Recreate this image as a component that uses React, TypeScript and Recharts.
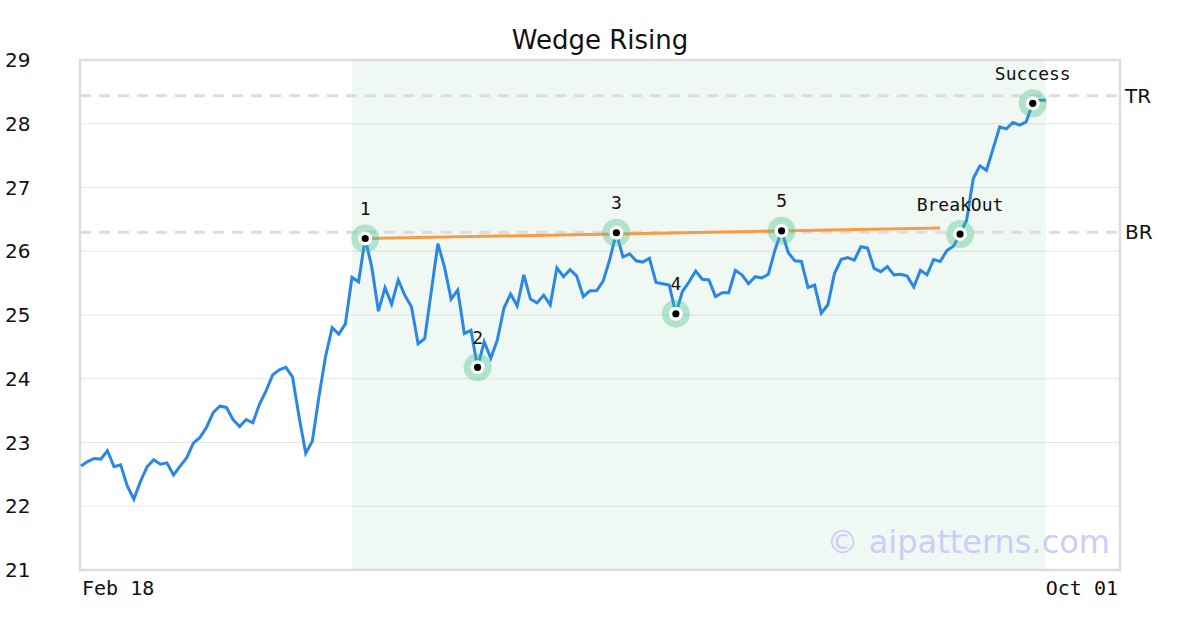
import React from "react";
import {
  ComposedChart,
  Line,
  Scatter,
  XAxis,
  YAxis,
  CartesianGrid,
  ReferenceArea,
  ReferenceLine,
} from "recharts";

const values = [
  22.63, 22.7, 22.75, 22.74, 22.87, 22.62, 22.65, 22.32, 22.11, 22.39,
  22.62, 22.73, 22.66, 22.68, 22.49, 22.63, 22.76, 22.99, 23.08, 23.24,
  23.47, 23.57, 23.55, 23.36, 23.25, 23.36, 23.31, 23.6, 23.81, 24.06,
  24.14, 24.18, 24.03, 23.4, 22.83, 23.02, 23.72, 24.35, 24.8, 24.7,
  24.86, 25.59, 25.52, 26.2, 25.75, 25.06, 25.43, 25.17, 25.55, 25.31,
  25.13, 24.55, 24.63, 25.37, 26.12, 25.75, 25.25, 25.39, 24.71, 24.76,
  24.18, 24.58, 24.32, 24.61, 25.11, 25.33, 25.14, 25.63, 25.25, 25.19,
  25.31, 25.16, 25.74, 25.6, 25.71, 25.61, 25.29, 25.38, 25.38, 25.53,
  25.87, 26.29, 25.91, 25.96, 25.85, 25.83, 25.89, 25.51, 25.49, 25.47,
  25.02, 25.37, 25.52, 25.69, 25.56, 25.55, 25.29, 25.35, 25.35, 25.7,
  25.63, 25.49, 25.6, 25.58, 25.64, 26.02, 26.32, 25.98, 25.85, 25.84,
  25.43, 25.47, 25.03, 25.16, 25.65, 25.87, 25.9, 25.86, 26.07, 26.05,
  25.73, 25.68, 25.76, 25.63, 25.64, 25.61, 25.44, 25.7, 25.63, 25.87,
  25.84, 26.01, 26.08, 26.27, 26.49, 27.14, 27.34, 27.27, 27.61, 27.95,
  27.92, 28.02, 27.98, 28.03, 28.32, 28.37, 28.37,
];

const markerIndex = [43, 60, 81, 90, 106, 133, 144];
const markerLabels = ["1", "2", "3", "4", "5", "BreakOut", "Success"];

const xTickLabels = ["Feb 18", "Oct 01"];
const xDomain = [-0.15, 157.2];
const yTicks = [21, 22, 23, 24, 25, 26, 27, 28, 29];

const patternRange = [41, 146];
const trendIndex = [43, 130];
const trendValues = [26.2, 26.365];
const levelValues = [28.44, 26.3];
const levelLabels = ["TR", "BR"];

const data = values.map((v, i) => ({ i, v }));
const markerData = markerIndex.map((i, k) => ({ i, m: values[i], label: markerLabels[k] }));

const MONO = "'DejaVu Sans Mono', monospace";
const SANS = "'DejaVu Sans', sans-serif";

const Halo = (props: any) => {
  const { cx, cy } = props;
  return <circle cx={cx} cy={cy} r={14} fill="#3cbe82" fillOpacity={0.36} />;
};

const Marker = (props: any) => {
  const { cx, cy, payload } = props;
  return (
    <g>
      <circle cx={cx} cy={cy} r={7} fill="#ffffff" />
      <circle cx={cx} cy={cy} r={3.6} fill="#000000" />
      <text
        x={cx}
        y={cy - 30}
        textAnchor="middle"
        dominantBaseline="central"
        fontFamily={MONO}
        fontSize={18}
        fill="#111"
      >
        {payload.label}
      </text>
    </g>
  );
};

const XTick = (props: any) => {
  const { x, y, index } = props;
  return (
    <text
      x={x + (index === 0 ? 1 : -2)}
      y={y}
      dy="0.71em"
      textAnchor={index === 0 ? "start" : "end"}
      fontFamily={MONO}
      fontSize={20}
      fill="#111"
    >
      {xTickLabels[index]}
    </text>
  );
};

const YTick = (props: any) => {
  const { y, payload } = props;
  return (
    <text x={5} y={y} dominantBaseline="central" fontFamily={SANS} fontSize={20} fill="#111">
      {payload.value}
    </text>
  );
};

export default function App() {
  return (
    <div style={{ position: "absolute", left: 0, top: 0, width: 1200, height: 630, background: "#fff" }}>
      <div
        style={{
          position: "absolute",
          left: 0,
          top: 22,
          width: 1200,
          textAlign: "center",
          fontFamily: SANS,
          fontSize: 26,
          lineHeight: "36px",
          color: "#111",
        }}
      >
        Wedge Rising
      </div>
      <ComposedChart
        width={1200}
        height={630}
        data={data}
        margin={{ top: 60, right: 80, bottom: 30, left: 5 }}
      >
        <ReferenceArea
          x1={patternRange[0]}
          x2={patternRange[1]}
          y1={21}
          y2={29}
          fill="#3aa86e"
          fillOpacity={0.08}
          stroke="none"
        />
        <CartesianGrid vertical={false} stroke="#e6e6e6" strokeWidth={1} />
        <XAxis
          type="number"
          dataKey="i"
          domain={xDomain}
          ticks={[0, xDomain[1]]}
          allowDataOverflow
          axisLine={false}
          tickLine={false}
          tickMargin={5}
          height={30}
          tick={<XTick />}
        />
        <YAxis
          type="number"
          domain={[21, 29]}
          ticks={yTicks}
          width={75}
          axisLine={false}
          tickLine={false}
          tick={<YTick />}
        />
        {levelValues.map((lv, k) => (
          <ReferenceLine
            key={k}
            y={lv}
            stroke="#dcdcdc"
            strokeWidth={3}
            strokeDasharray="11 8"
            label={{ value: levelLabels[k], position: "right", fontFamily: SANS, fontSize: 20, fill: "#111" }}
          />
        ))}
        <ReferenceLine
          segment={[
            { x: trendIndex[0], y: trendValues[0] },
            { x: trendIndex[1], y: trendValues[1] },
          ]}
          stroke="#f99b45"
          strokeWidth={3}
        />
        <Scatter data={markerData} dataKey="m" shape={<Halo />} isAnimationActive={false} />
        <Line
          type="linear"
          dataKey="v"
          stroke="#2a87e6"
          strokeWidth={3}
          dot={false}
          activeDot={false}
          isAnimationActive={false}
        />
        <Scatter data={markerData} dataKey="m" shape={<Marker />} isAnimationActive={false} />
        <ReferenceArea
          x1={xDomain[0]}
          x2={xDomain[1]}
          y1={21}
          y2={29}
          fill="none"
          stroke="#dddddd"
          strokeWidth={2.5}
        />
      </ComposedChart>
      <div
        style={{
          position: "absolute",
          right: 90,
          top: 520,
          fontFamily: SANS,
          fontSize: 32,
          lineHeight: "44px",
          color: "#cdcdfa",
          whiteSpace: "nowrap",
        }}
      >
        © aipatterns.com
      </div>
    </div>
  );
}
